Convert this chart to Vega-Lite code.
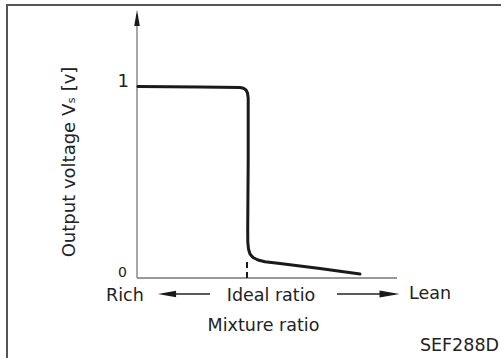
{
  "$schema": "https://vega.github.io/schema/vega-lite/v6.json",
  "width": 501,
  "height": 358,
  "autosize": "none",
  "padding": 0,
  "background": "white",
  "config": {"view": {"stroke": null}},
  "datasets": {
    "frame": [{"x": -1.1818, "x2": 3.39, "y": 1.4293, "y2": -0.4555}],
    "axes": [
      {"x": 0, "x2": 0, "y": 0, "y2": 1.3822},
      {"x": 0, "x2": 2.3636, "y": 0, "y2": 0}
    ],
    "arrowLines": [
      {"x": 0.3455, "x2": 0.6636, "y": -0.0838, "y2": -0.0838},
      {"x": 1.8182, "x2": 2.2182, "y": -0.0838, "y2": -0.0838}
    ],
    "ideal": [{"x": 1.0, "x2": 1.0, "y": 0, "y2": 0.105}],
    "heads": [
      {"x": 0, "y": 1.3613, "dir": "up"},
      {"x": 0.2727, "y": -0.0838, "dir": "left"},
      {"x": 2.2955, "y": -0.0838, "dir": "right"}
    ],
    "curve": [
      {"x": 0.0091, "y": 1.0026},
      {"x": 0.5727, "y": 1.0},
      {"x": 0.9364, "y": 0.9974},
      {"x": 0.9682, "y": 0.9932},
      {"x": 0.9909, "y": 0.9843},
      {"x": 1.0045, "y": 0.9686},
      {"x": 1.0109, "y": 0.9424},
      {"x": 1.0109, "y": 0.6178},
      {"x": 1.0064, "y": 0.2513},
      {"x": 1.0073, "y": 0.1885},
      {"x": 1.0136, "y": 0.1518},
      {"x": 1.0273, "y": 0.1257},
      {"x": 1.0545, "y": 0.1073},
      {"x": 1.1, "y": 0.0942},
      {"x": 1.1636, "y": 0.0853},
      {"x": 1.3, "y": 0.0759},
      {"x": 1.6636, "y": 0.0497},
      {"x": 2.0273, "y": 0.0209}
    ],
    "labelsLeft": [
      {"x": -0.2818, "y": -0.0942, "text": "Rich", "size": 17.5},
      {"x": 2.4727, "y": -0.0838, "text": "Lean", "size": 17.5}
    ],
    "labelsCenter": [
      {"x": 1.2182, "y": -0.0942, "text": "Ideal ratio", "size": 17.5},
      {"x": 1.15, "y": -0.2513, "text": "Mixture ratio", "size": 17.5}
    ],
    "labelsRight": [
      {"x": -0.0727, "y": 1.0262, "text": "1", "size": 18},
      {"x": -0.0909, "y": 0.0262, "text": "0", "size": 14},
      {"x": 3.2909, "y": -0.356, "text": "SEF288D", "size": 17.5}
    ],
    "ytitle": [{"x": -0.6136, "y": 0.6073, "text": "Output voltage Vₛ [v]"}]
  },
  "encoding": {
    "x": {"field": "x", "type": "quantitative", "scale": {"domain": [-1.24545, 3.30909], "nice": false, "zero": false}, "axis": null},
    "y": {"field": "y", "type": "quantitative", "scale": {"domain": [-0.41885, 1.4555], "nice": false, "zero": false}, "axis": null}
  },
  "layer": [
    {
      "data": {"name": "frame"},
      "mark": {"type": "rect", "fill": null, "stroke": "#555555", "strokeWidth": 2, "clip": false},
      "encoding": {"x2": {"field": "x2"}, "y2": {"field": "y2"}}
    },
    {
      "data": {"name": "axes"},
      "mark": {"type": "rule", "color": "#777777", "strokeWidth": 1.3},
      "encoding": {"x2": {"field": "x2"}, "y2": {"field": "y2"}}
    },
    {
      "data": {"name": "arrowLines"},
      "mark": {"type": "rule", "color": "#222222", "strokeWidth": 1.3},
      "encoding": {"x2": {"field": "x2"}, "y2": {"field": "y2"}}
    },
    {
      "data": {"name": "ideal"},
      "mark": {"type": "rule", "color": "#1a1a1a", "strokeWidth": 2, "strokeDash": [6, 4]},
      "encoding": {"x2": {"field": "x2"}, "y2": {"field": "y2"}}
    },
    {
      "data": {"name": "heads"},
      "mark": {"type": "point", "filled": true, "color": "#1a1a1a", "opacity": 1, "strokeWidth": 0},
      "encoding": {
        "shape": {"field": "dir", "type": "nominal", "legend": null, "scale": {"domain": ["up", "left", "right"], "range": ["M0,-1L0.35,1L-0.35,1Z", "M-1,0L1,-0.35L1,0.35Z", "M1,0L-1,-0.35L-1,0.35Z"]}},
        "size": {"field": "dir", "type": "nominal", "legend": null, "scale": {"domain": ["up", "left", "right"], "range": [256, 400, 361]}}
      }
    },
    {
      "data": {"name": "curve"},
      "mark": {"type": "line", "color": "#1a1a1a", "strokeWidth": 3, "strokeJoin": "round", "strokeCap": "round"},
      "encoding": {"order": {"value": null}}
    },
    {
      "data": {"name": "labelsLeft"},
      "mark": {"type": "text", "font": "DejaVu Sans", "color": "#222222", "baseline": "middle", "align": "left"},
      "encoding": {
        "text": {"field": "text"},
        "size": {"field": "size", "type": "quantitative", "scale": null}
      }
    },
    {
      "data": {"name": "labelsCenter"},
      "mark": {"type": "text", "font": "DejaVu Sans", "color": "#222222", "baseline": "middle", "align": "center"},
      "encoding": {
        "text": {"field": "text"},
        "size": {"field": "size", "type": "quantitative", "scale": null}
      }
    },
    {
      "data": {"name": "labelsRight"},
      "mark": {"type": "text", "font": "DejaVu Sans", "color": "#222222", "baseline": "middle", "align": "right"},
      "encoding": {
        "text": {"field": "text"},
        "size": {"field": "size", "type": "quantitative", "scale": null}
      }
    },
    {
      "data": {"name": "ytitle"},
      "mark": {"type": "text", "font": "DejaVu Sans", "color": "#222222", "baseline": "middle", "align": "center", "angle": 270, "fontSize": 18},
      "encoding": {"text": {"field": "text"}}
    }
  ]
}
